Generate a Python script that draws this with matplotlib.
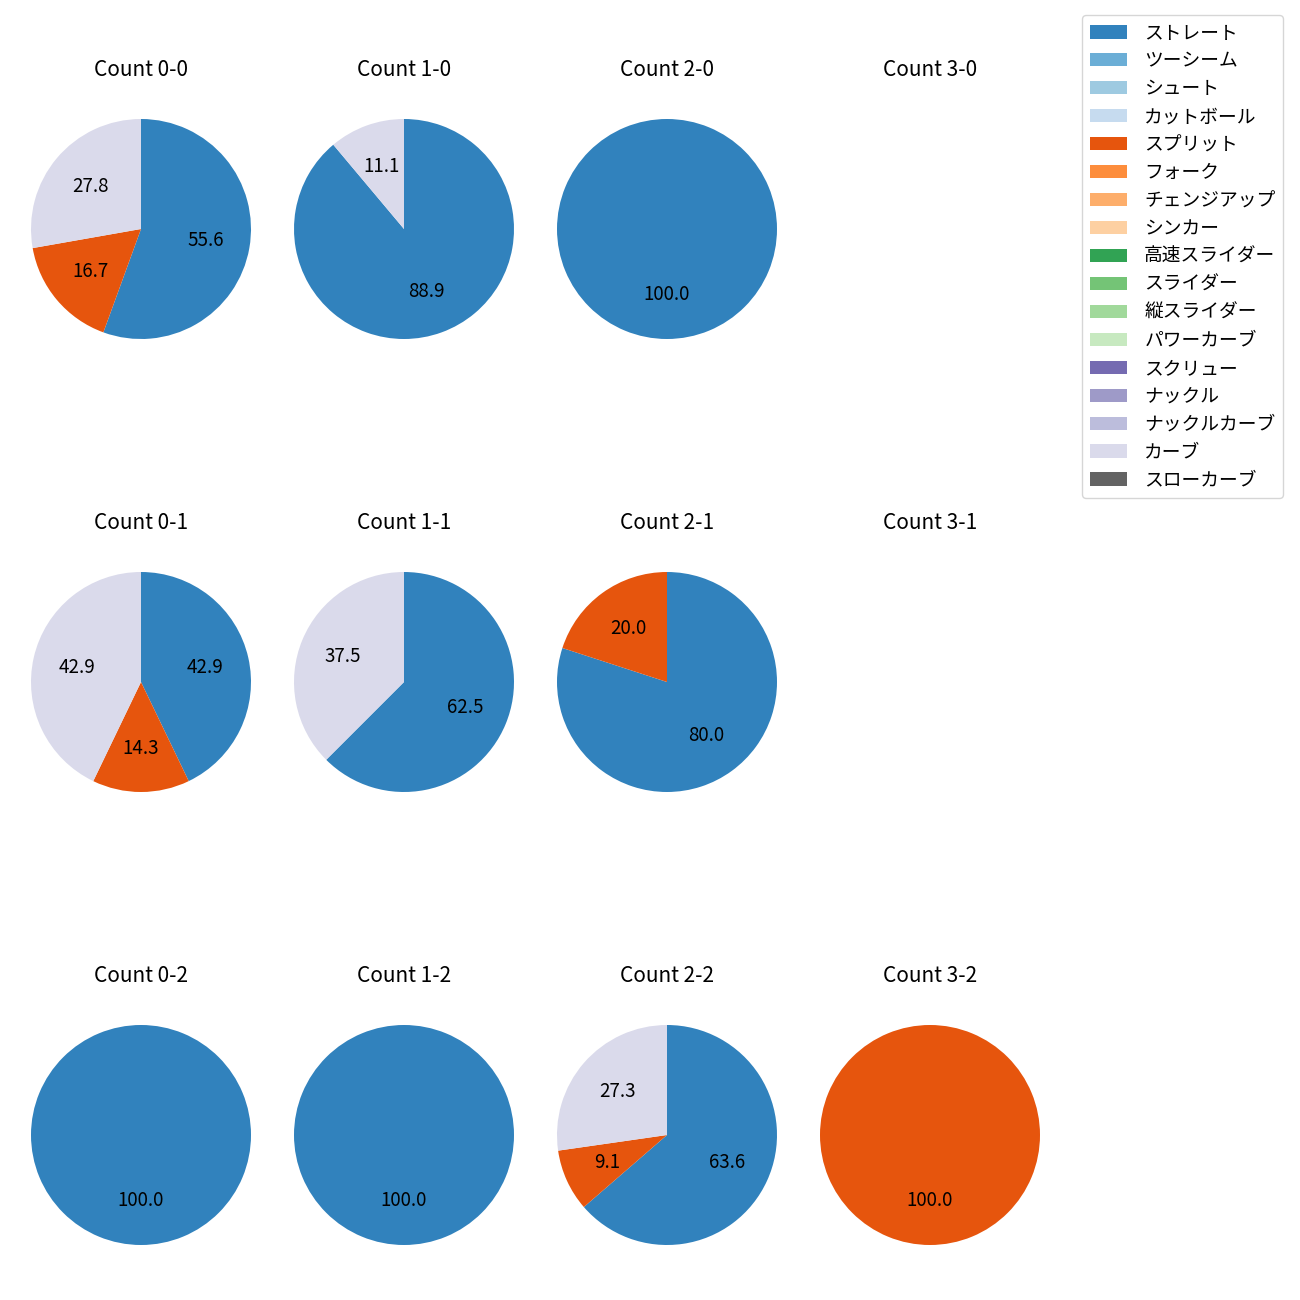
import matplotlib
matplotlib.use("Agg")
import matplotlib.pyplot as plt
from matplotlib.patches import Patch
import numpy as np

plt.rcParams['font.family'] = ['Noto Sans CJK JP', 'DejaVu Sans']

pitch_types = ["ストレート", "ツーシーム", "シュート", "カットボール", "スプリット", "フォーク",
               "チェンジアップ", "シンカー", "高速スライダー", "スライダー", "縦スライダー",
               "パワーカーブ", "スクリュー", "ナックル", "ナックルカーブ", "カーブ", "スローカーブ"]
pitch_colors = ["#3182bd", "#6baed6", "#9ecae1", "#c6dbef", "#e6550d", "#fd8d3c",
                "#fdae6b", "#fdd0a2", "#31a354", "#74c476", "#a1d99b", "#c7e9c0",
                "#756bb1", "#9e9ac8", "#bcbddc", "#dadaeb", "#636363"]

# counts in row order: strikes 0..2, balls 0..3
count_labels = ["0-0", "1-0", "2-0", "3-0",
                "0-1", "1-1", "2-1", "3-1",
                "0-2", "1-2", "2-2", "3-2"]
straight = [10, 8, 1, 0, 3, 5, 4, 0, 2, 2, 7, 0]
split = [3, 0, 0, 0, 1, 0, 1, 0, 0, 0, 1, 1]
curve = [5, 1, 0, 0, 3, 3, 0, 0, 0, 0, 3, 0]

series = {"ストレート": straight, "スプリット": split, "カーブ": curve}


def draw():
    fig = plt.figure(figsize=(13, 13), dpi=100)
    W, H = 1300.0, 1300.0
    size = 275.0
    for k, label in enumerate(count_labels):
        row, col = divmod(k, 4)
        cx = 141 + 263 * col
        cy = 229 + 453 * row
        ax = fig.add_axes([(cx - size / 2) / W, 1 - (cy + size / 2) / H, size / W, size / H])
        vals, cols = [], []
        for name in pitch_types:
            if name in series and series[name][k] > 0:
                vals.append(series[name][k])
                cols.append(pitch_colors[pitch_types.index(name)])
        if vals:
            ax.pie(vals, colors=cols, startangle=90, counterclock=False,
                   autopct='%.1f', textprops={'fontsize': 13.5})
        else:
            ax.set_xlim(-1.25, 1.25)
            ax.set_ylim(-1.25, 1.25)
            ax.set_aspect('equal')
        ax.axis('off')
        ax.set_title("Count " + label, fontsize=15, pad=11)

    handles = [Patch(facecolor=c) for c in pitch_colors]
    fig.legend(handles, pitch_types, loc='upper right', borderaxespad=0,
               bbox_to_anchor=(1283 / W, 1 - 15 / H), fontsize=13.5,
               labelspacing=0.37, handletextpad=0.9)
    fig.savefig("out.png", dpi=100)


if __name__ == '__main__':
    draw()
